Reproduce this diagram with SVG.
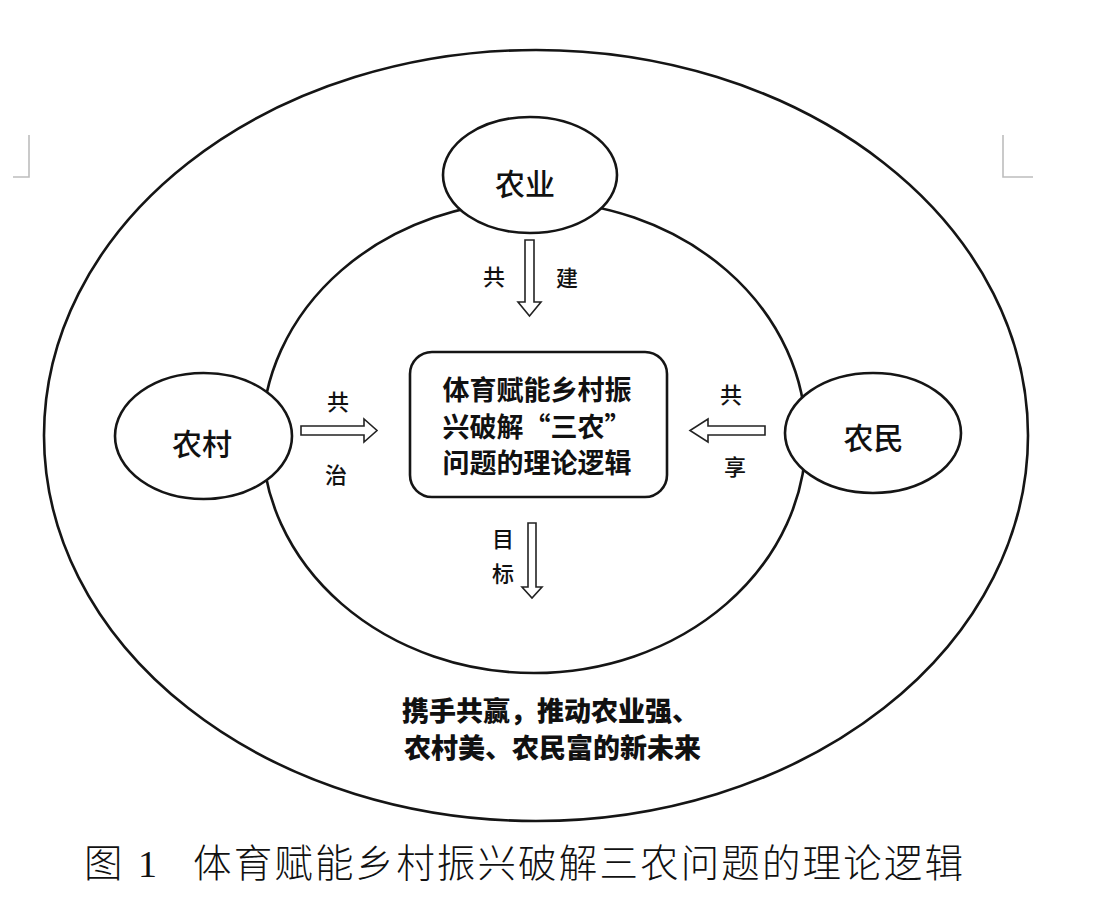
<svg xmlns="http://www.w3.org/2000/svg" width="1110" height="909" viewBox="0 0 1110 909">
<style>
  .ring{fill:none;stroke:#151515;stroke-width:2.6}
  .node{fill:#fff;stroke:#151515;stroke-width:2.6}
  .box{fill:#fff;stroke:#151515;stroke-width:2.6}
  .arrow{fill:#fff;stroke:#222;stroke-width:1.6;stroke-linejoin:miter}
  .corner{fill:none;stroke:#bdbdbd;stroke-width:1.6}
  .t{font-family:"Noto Sans CJK SC","Noto Sans CJK TC",sans-serif;fill:#111}
  .lbl{font-size:30px;text-anchor:middle;font-weight:500}
  .al{font-size:22px;text-anchor:middle;font-weight:500}
  .ctr{font-size:27px;font-weight:bold;text-anchor:middle}
  .goal{font-size:27px;font-weight:900}
  .cap{font-size:38.5px;font-weight:300}
</style>
<rect width="1110" height="909" fill="#fff"/>
<g id="corner-marks">
  <path class="corner" d="M29,135 V177 H13"/>
  <path class="corner" d="M1003,135 V177 H1033"/>
</g>
<g id="outer-ring">
  <ellipse class="ring" cx="536" cy="435.5" rx="492" ry="385.5"/>
</g>
<g id="inner-ring">
  <ellipse class="ring" cx="534" cy="437" rx="272" ry="236"/>
</g>
<g id="node-nongye">
  <ellipse class="node" cx="530" cy="175" rx="87" ry="58"/>
  <text class="t lbl" x="525" y="195">农业</text>
</g>
<g id="node-nongcun">
  <ellipse class="node" cx="203.5" cy="436" rx="88.5" ry="63"/>
  <text class="t lbl" x="202" y="455">农村</text>
</g>
<g id="node-nongmin">
  <ellipse class="node" cx="873" cy="433" rx="88" ry="60"/>
  <text class="t lbl" x="873.5" y="449">农民</text>
</g>
<g id="node-center">
  <rect class="box" x="410" y="352" width="257" height="145" rx="22" ry="22"/>
  <text class="t ctr" x="537" y="400">体育赋能乡村振</text>
  <text class="t ctr" x="537" y="437">兴破解“三农”</text>
  <text class="t ctr" x="537" y="473">问题的理论逻辑</text>
</g>
<g id="connectors">
  <polygon class="arrow" points="525,240 534,240 534,302 541,302 529.5,316 518,302 525,302"/>
  <polygon class="arrow" points="301,426 364,426 364,419 377,430.5 364,442 364,435 301,435"/>
  <polygon class="arrow" points="765,426 708,426 708,419 690,430.5 708,442 708,435 765,435"/>
  <polygon class="arrow" points="528,523 536,523 536,587 542,587 532,598 522,587 528,587"/>
</g>
<g id="connector-labels">
  <text class="t al" x="494" y="285">共</text>
  <text class="t al" x="567" y="286">建</text>
  <text class="t al" x="338" y="410">共</text>
  <text class="t al" x="336" y="483">治</text>
  <text class="t al" x="731" y="403">共</text>
  <text class="t al" x="735" y="475">享</text>
  <text class="t al" x="503" y="547">目</text>
  <text class="t al" x="503" y="582">标</text>
</g>
<g id="goal-text">
  <text class="t goal" x="402" y="721">携手共赢，推动农业强、</text>
  <text class="t goal" x="404" y="758">农村美、农民富的新未来</text>
</g>
<g id="caption">
  <text class="t cap" x="84" y="877">图</text>
  <text x="138" y="877" style="font-family:'Liberation Serif',serif;font-size:38px;fill:#111">1</text>
  <text class="t cap" x="193" y="877" textLength="770" lengthAdjust="spacing">体育赋能乡村振兴破解三农问题的理论逻辑</text>
</g>
</svg>
